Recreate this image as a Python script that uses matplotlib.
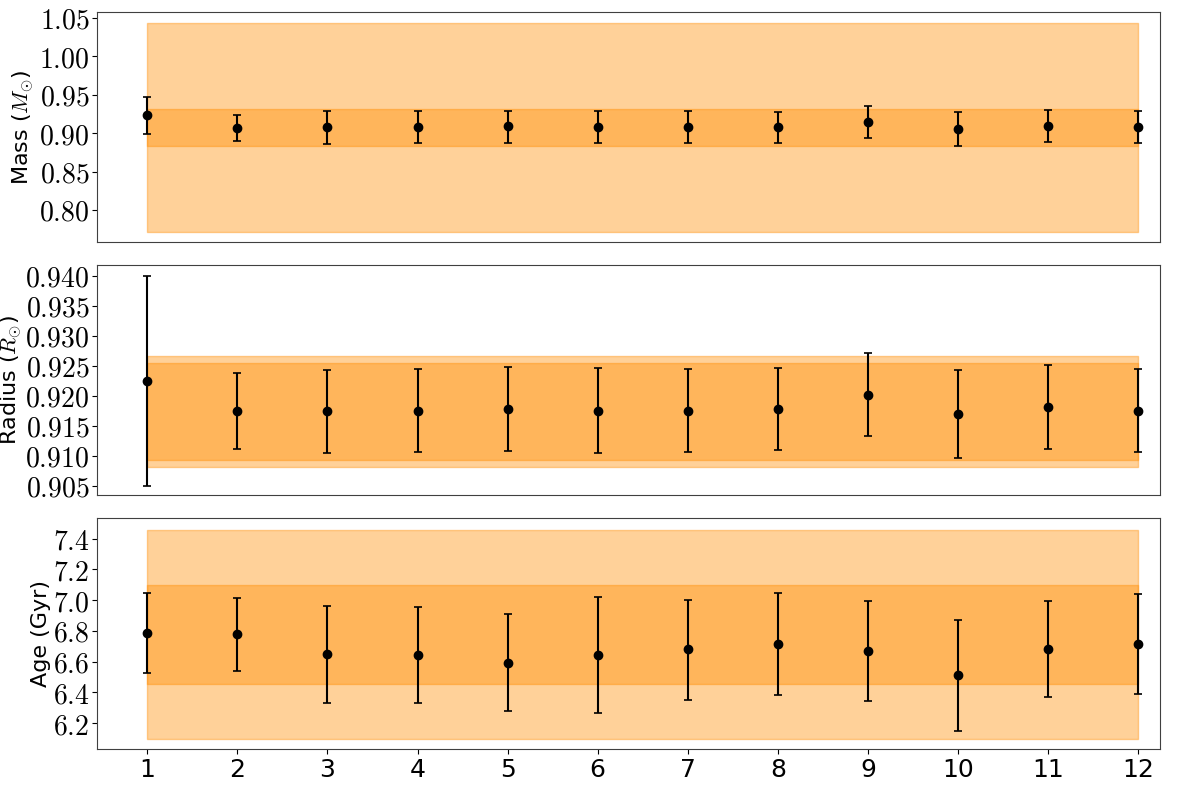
import matplotlib
matplotlib.use("Agg")
import matplotlib.pyplot as plt
import numpy as np
from matplotlib.ticker import FuncFormatter

plt.rcParams["mathtext.fontset"] = "cm"
plt.rcParams["font.family"] = "DejaVu Sans"

runs = np.arange(1, 13)

mass = [0.923, 0.907, 0.9074, 0.9078, 0.9087, 0.9078, 0.9078, 0.9078, 0.9148, 0.9057, 0.9091, 0.9078]
mass_hi = [0.9469, 0.924, 0.9283, 0.9283, 0.9292, 0.9287, 0.9287, 0.9278, 0.9357, 0.9274, 0.9296, 0.9287]
mass_lo = [0.8992, 0.8896, 0.8862, 0.887, 0.8875, 0.887, 0.887, 0.887, 0.894, 0.8836, 0.8879, 0.887]
mass_outer = (0.771, 1.044)
mass_inner = (0.8837, 0.931)

radius = [0.9225, 0.9175, 0.9175, 0.9175, 0.91783, 0.9175, 0.9175, 0.91783, 0.92017, 0.91695, 0.91817, 0.9175]
radius_hi = [0.940, 0.92375, 0.9244, 0.92445, 0.92483, 0.92462, 0.92455, 0.92467, 0.92712, 0.92433, 0.92517, 0.9245]
radius_lo = [0.905, 0.91118, 0.9105, 0.91057, 0.91083, 0.91045, 0.91057, 0.9109, 0.91328, 0.90957, 0.91117, 0.91057]
radius_outer = (0.90817, 0.92673)
radius_inner = (0.90935, 0.92555)

age = [6.784, 6.779, 6.648, 6.645, 6.593, 6.645, 6.680, 6.716, 6.671, 6.512, 6.684, 6.716]
age_hi = [7.044, 7.015, 6.961, 6.956, 6.909, 7.024, 7.004, 7.050, 6.993, 6.872, 6.995, 7.043]
age_lo = [6.525, 6.541, 6.334, 6.334, 6.276, 6.267, 6.351, 6.386, 6.347, 6.148, 6.373, 6.392]
age_outer = (6.098, 7.458)
age_inner = (6.455, 7.102)

panels = [
    (mass, mass_lo, mass_hi, mass_outer, mass_inner, r"Mass ($M_{\odot}$)",
     np.arange(0.80, 1.0501, 0.05), 2, (0.758, 1.0578), -0.058),
    (radius, radius_lo, radius_hi, radius_outer, radius_inner, r"Radius ($R_{\odot}$)",
     np.arange(0.905, 0.94001, 0.005), 3, (0.9034, 0.9418), -0.069),
    (age, age_lo, age_hi, age_outer, age_inner, "Age (Gyr)",
     np.arange(6.2, 7.4001, 0.2), 1, (6.033, 7.532), -0.043),
]

fig, axes = plt.subplots(3, 1, figsize=(12, 7.94), sharex=True)
fig.subplots_adjust(left=0.081, right=0.967, top=0.985, bottom=0.057, hspace=0.1)

for ax, (val, lo, hi, outer, inner, label, yticks, dec, ylim, lx) in zip(axes, panels):
    val = np.array(val)
    yerr = [val - np.array(lo), np.array(hi) - val]
    ax.fill_between([runs[0], runs[-1]], outer[0], outer[1], color="darkorange", alpha=0.4)
    ax.fill_between([runs[0], runs[-1]], inner[0], inner[1], color="darkorange", alpha=0.4)
    ax.errorbar(runs, val, yerr=yerr, fmt="o", color="black", ecolor="black",
                markersize=6, elinewidth=1.5, capsize=3, capthick=1.2)
    ax.set_ylabel(label, fontsize=16)
    ax.yaxis.set_label_coords(lx, 0.5)
    ax.set_yticks(yticks)
    ax.yaxis.set_major_formatter(FuncFormatter(lambda v, p, d=dec: f"${v:.{d}f}$"))
    ax.tick_params(axis="y", labelsize=20, pad=2)
    ax.set_ylim(*ylim)
    for sp in ax.spines.values():
        sp.set_color("0.25")

axes[0].tick_params(axis="x", bottom=False)
axes[1].tick_params(axis="x", bottom=False)
axes[2].set_xticks(runs)
axes[2].tick_params(axis="x", labelsize=18)
axes[2].set_xlim(0.445, 12.245)

fig.savefig("out.png", dpi=100)
